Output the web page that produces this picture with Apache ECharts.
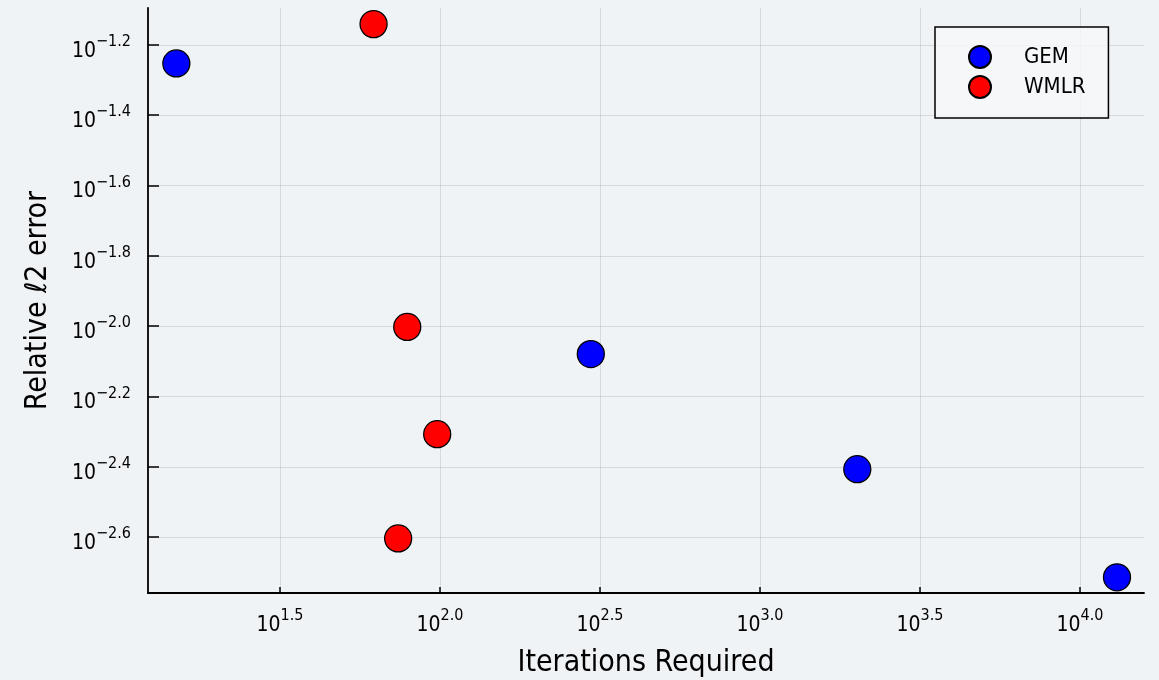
<!DOCTYPE html>
<html>
<head>
<meta charset="utf-8">
<script src="https://cdn.jsdelivr.net/npm/echarts@6/dist/echarts.min.js"></script>
<style>html,body{margin:0;padding:0;background:#f0f3f6;}#c{width:1159px;height:680px;}</style>
</head>
<body>
<div id="c"></div>
<script>
const seriesNames = ['GEM', 'WMLR'];
const gemIterations = [15, 296, 2014, 13050];
const gemError = [0.0559, 0.00833, 0.00392, 0.00193];
const wmlrIterations = [62, 79, 98, 74];
const wmlrError = [0.0723, 0.00995, 0.00493, 0.00249];
const xTickExponents = [1.5, 2.0, 2.5, 3.0, 3.5, 4.0];
const yTickExponents = [-2.6, -2.4, -2.2, -2.0, -1.8, -1.6, -1.4, -1.2];
const xExpRange = [1.0875, 4.2];
const yExpRange = [-2.759, -1.095];

const toLog = (xs, ys) => xs.map((x, i) => [Math.log10(x), Math.log10(ys[i])]);
const fmtExp = v => '{b|10}{s|' + (v < 0 ? '\u2212' : '') + Math.abs(v).toFixed(1) + '}';
const FONT = '"DejaVu Sans Condensed", "DejaVu Sans"';
const rich = {
  b: {fontFamily: FONT, fontSize: 21, color: '#000', verticalAlign: 'bottom', lineHeight: 24},
  s: {fontFamily: FONT, fontSize: 16, color: '#000', verticalAlign: 'bottom', lineHeight: 24, padding: [0, 0, 12, 0]}
};

const chart = echarts.init(document.getElementById('c'), null, {renderer: 'canvas'});
chart.setOption({
  backgroundColor: '#f0f3f6',
  animation: false,
  grid: {left: 148, top: 8, right: 15, bottom: 87, containLabel: false, outerBoundsMode: 'none'},
  legend: {
    orient: 'vertical',
    left: 935, top: 27,
    padding: [18, 23, 19, 33],
    itemGap: 6,
    itemWidth: 22, itemHeight: 22,
    borderColor: '#000', borderWidth: 1.5, borderRadius: 0,
    backgroundColor: 'rgba(246,248,250,0.8)',
    textStyle: {fontFamily: FONT, fontSize: 22, color: '#000', padding: [0, 0, 0, 28]},
    data: seriesNames.map(n => ({name: n, icon: 'circle'}))
  },
  xAxis: {
    type: 'value',
    min: xExpRange[0], max: xExpRange[1],
    name: 'Iterations Required',
    nameLocation: 'middle', nameGap: 55,
    nameTextStyle: {fontFamily: FONT, fontSize: 30, color: '#000'},
    axisLine: {show: true, onZero: false, lineStyle: {color: '#000', width: 1.8}},
    axisTick: {show: true, inside: true, length: 6, customValues: xTickExponents, lineStyle: {color: '#000', width: 1.5}},
    axisLabel: {customValues: xTickExponents, margin: 19, formatter: v => fmtExp(v), rich: rich},
    splitLine: {show: true, lineStyle: {color: 'rgba(0,0,0,0.1)', width: 1}}
  },
  yAxis: {
    type: 'value',
    min: yExpRange[0], max: yExpRange[1],
    name: 'Relative {it|\u2113}2 error',
    nameLocation: 'middle', nameGap: 95, nameRotate: 90,
    nameTextStyle: {fontFamily: FONT, fontSize: 30, color: '#000',
      rich: {it: {fontFamily: FONT, fontSize: 30, fontStyle: 'italic', color: '#000'}}},
    axisLine: {show: true, onZero: false, lineStyle: {color: '#000', width: 1.8}},
    axisTick: {show: true, inside: true, length: 11, customValues: yTickExponents, lineStyle: {color: '#000', width: 1.5}},
    axisLabel: {customValues: yTickExponents, margin: 17, padding: [10, 0, 0, 0], formatter: v => fmtExp(v), rich: rich},
    splitLine: {show: true, lineStyle: {color: 'rgba(0,0,0,0.1)', width: 1}}
  },
  series: [
    {name: seriesNames[0], type: 'scatter', symbol: 'circle', symbolSize: 27,
     itemStyle: {color: '#0000ff', borderColor: '#000', borderWidth: 1.3, opacity: 1},
     data: toLog(gemIterations, gemError)},
    {name: seriesNames[1], type: 'scatter', symbol: 'circle', symbolSize: 27,
     itemStyle: {color: '#ff0000', borderColor: '#000', borderWidth: 1.3, opacity: 1},
     data: toLog(wmlrIterations, wmlrError)}
  ]
});
</script>
</body>
</html>
